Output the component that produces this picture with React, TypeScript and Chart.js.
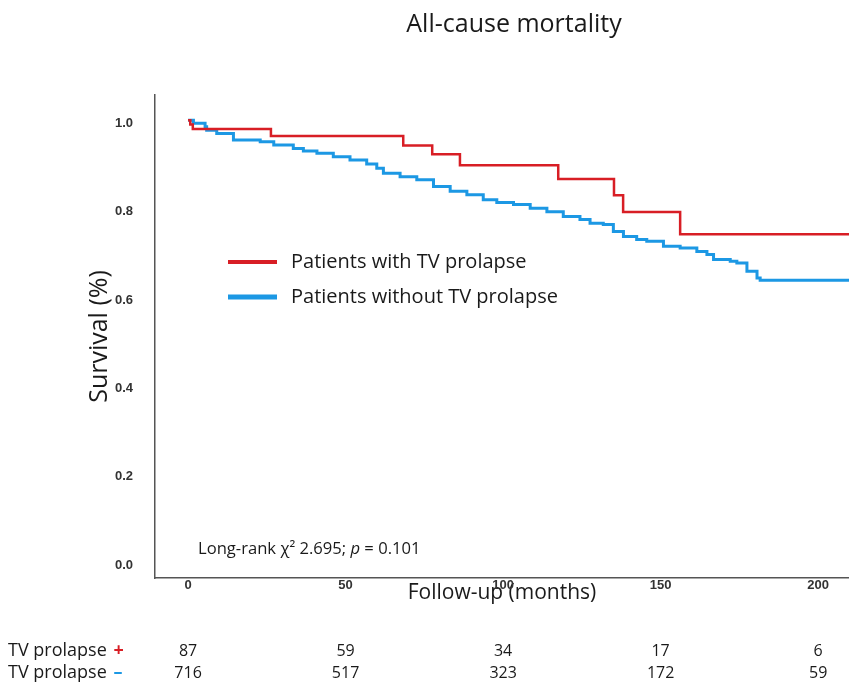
import React, { useEffect, useRef } from "react";
import { Chart, registerables } from "chart.js";

Chart.register(...registerables);

const TITLE = "All-cause mortality";
const X_TICKS = [0, 50, 100, 150, 200];
const Y_TICKS = [0, 0.2, 0.4, 0.6, 0.8, 1.0];

const RED_T = [0, 0.7, 1.5, 26.3, 68.3, 77.5, 86.3, 117.5, 135.2, 138.1, 156.2, 212];
const RED_S = [1.0, 0.99, 0.98, 0.964, 0.943, 0.923, 0.898, 0.867, 0.83, 0.792, 0.742, 0.742];

const BLUE_T = [0, 1.7, 5.4, 5.9, 9.1, 14.4, 22.9, 27.2, 33.4, 36.6, 40.9, 46.1, 51.4, 56.7, 59.9, 62.0, 67.3, 72.6, 77.9, 83.2, 88.5, 93.7, 98.0, 103.3, 108.6, 113.9, 119.1, 124.4, 127.6, 131.8, 135.0, 138.2, 142.4, 145.6, 150.9, 156.2, 161.5, 164.7, 166.8, 172.1, 174.2, 177.4, 180.6, 181.6, 212];
const BLUE_S = [1.0, 0.993, 0.985, 0.977, 0.97, 0.955, 0.951, 0.944, 0.936, 0.93, 0.925, 0.917, 0.91, 0.901, 0.891, 0.88, 0.872, 0.865, 0.85, 0.839, 0.831, 0.82, 0.814, 0.809, 0.801, 0.793, 0.782, 0.775, 0.767, 0.764, 0.748, 0.737, 0.73, 0.726, 0.715, 0.711, 0.703, 0.696, 0.685, 0.681, 0.677, 0.658, 0.643, 0.638, 0.638];

const SERIES_LABELS = ["Patients with TV prolapse", "Patients without TV prolapse"];
const SERIES_COLORS = ["#d81e25", "#1c98e4"];

const RISK_LABELS = ["TV prolapse ", "TV prolapse "];
const RISK_SIGNS = ["+", "\u2013"];
const RISK_RED = [87, 59, 34, 17, 6];
const RISK_BLUE = [716, 517, 323, 172, 59];

const ANNOT_PARTS = ["Long-rank \u03c7\u00b2 2.695; ", "p", " = 0.101"];

const TEXT_FONT = "'Open Sans', 'Noto Sans', sans-serif";
const TICK_FONT = "'Liberation Sans', Arial, sans-serif";

const extrasPlugin = {
  id: "extras",
  afterDraw(chart: any) {
    const ctx = chart.ctx as CanvasRenderingContext2D;
    const xs = chart.scales.x;
    ctx.save();
    // Title
    ctx.fillStyle = "#1a1a1a";
    ctx.font = `25px ${TEXT_FONT}`;
    ctx.textAlign = "center";
    ctx.textBaseline = "middle";
    ctx.fillText(TITLE, 514, 25);

    // Legend
    const legY = [262, 297];
    chart.data.datasets.forEach((ds: any, i: number) => {
      ctx.strokeStyle = ds.borderColor;
      ctx.lineWidth = i === 0 ? 4 : 5;
      ctx.beginPath();
      ctx.moveTo(228, legY[i]);
      ctx.lineTo(277, legY[i]);
      ctx.stroke();
      ctx.fillStyle = "#1a1a1a";
      ctx.font = `20px ${TEXT_FONT}`;
      ctx.textAlign = "left";
      ctx.textBaseline = "middle";
      ctx.fillText(ds.label, 291, legY[i]);
    });

    // Annotation
    const af = 16.6;
    ctx.font = `${af}px ${TEXT_FONT}`;
    ctx.textAlign = "left";
    ctx.textBaseline = "middle";
    let ax = 198;
    const ay = 549;
    ctx.fillText(ANNOT_PARTS[0], ax, ay);
    ax += ctx.measureText(ANNOT_PARTS[0]).width;
    ctx.font = `italic ${af}px ${TEXT_FONT}`;
    ctx.fillText(ANNOT_PARTS[1], ax, ay);
    ax += ctx.measureText(ANNOT_PARTS[1]).width;
    ctx.font = `${af}px ${TEXT_FONT}`;
    ctx.fillText(ANNOT_PARTS[2], ax, ay);

    // Risk table
    const rows = [RISK_RED, RISK_BLUE];
    const rowY = [651, 673];
    rows.forEach((vals, r) => {
      ctx.font = `18px ${TEXT_FONT}`;
      ctx.fillStyle = "#1a1a1a";
      ctx.textAlign = "left";
      ctx.fillText(RISK_LABELS[r], 8, rowY[r]);
      const w = ctx.measureText(RISK_LABELS[r]).width;
      ctx.font = `bold 18px ${TEXT_FONT}`;
      ctx.fillStyle = SERIES_COLORS[r];
      ctx.fillText(RISK_SIGNS[r], 10 + w, rowY[r]);
      ctx.font = `16px ${TEXT_FONT}`;
      ctx.fillStyle = "#1a1a1a";
      ctx.textAlign = "center";
      vals.forEach((v, i) => {
        ctx.fillText(String(v), xs.getPixelForValue(X_TICKS[i]), rowY[r]);
      });
    });
    ctx.restore();
  },
};

export default function App() {
  const ref = useRef<HTMLCanvasElement | null>(null);
  useEffect(() => {
    if (!ref.current) return;
    const chart = new Chart(ref.current, {
      type: "line",
      data: {
        datasets: [
          {
            label: SERIES_LABELS[0],
            data: RED_T.map((t, i) => ({ x: t, y: RED_S[i] })),
            borderColor: SERIES_COLORS[0],
            borderWidth: 2.5,
            stepped: true,
            pointRadius: 0,
            fill: false,
          },
          {
            label: SERIES_LABELS[1],
            data: BLUE_T.map((t, i) => ({ x: t, y: BLUE_S[i] })),
            borderColor: SERIES_COLORS[1],
            borderWidth: 3,
            stepped: true,
            pointRadius: 0,
            fill: false,
          },
        ],
      },
      options: {
        responsive: false,
        animation: false,
        layout: { padding: { left: 0, right: 0, top: 95, bottom: 0 } },
        plugins: {
          legend: { display: false },
          tooltip: { enabled: false },
          title: { display: false },
        },
        scales: {
          x: {
            type: "linear",
            min: -10.5,
            max: 209.8,
            grid: { display: false, drawTicks: false },
            border: { display: true, color: "#555", width: 1.5 },
            afterBuildTicks: (s: any) => {
              s.ticks = X_TICKS.map((v) => ({ value: v }));
            },
            afterFit: (s: any) => {
              s.height = 108;
            },
            ticks: {
              padding: 0,
              maxRotation: 0,
              autoSkip: false,
              color: "#333",
              font: { family: TICK_FONT, size: 13, weight: "bold" },
            },
            title: {
              display: true,
              text: "Follow-up (months)",
              color: "#1a1a1a",
              font: { family: TEXT_FONT, size: 21 },
              padding: { top: 0, bottom: 80 },
            },
          },
          y: {
            type: "linear",
            min: -0.036,
            max: 1.057,
            grid: { display: false, drawTicks: false },
            border: { display: true, color: "#555", width: 1.5 },
            afterBuildTicks: (s: any) => {
              s.ticks = Y_TICKS.map((v) => ({ value: v }));
            },
            afterFit: (s: any) => {
              s.width = 155;
            },
            ticks: {
              padding: 22,
              labelOffset: 3,
              color: "#333",
              font: { family: TICK_FONT, size: 13, weight: "bold" },
              callback: (v: any) => Number(v).toFixed(1),
            },
            title: {
              display: true,
              text: "Survival (%)",
              color: "#1a1a1a",
              font: { family: TEXT_FONT, size: 25 },
              padding: { top: 85, bottom: 0 },
            },
          },
        },
      },
      plugins: [extrasPlugin],
    });
    return () => chart.destroy();
  }, []);
  return (
    <div style={{ position: "fixed", left: 0, top: 0, width: 849, height: 686, background: "#fff" }}>
      <canvas ref={ref} width={849} height={686} />
    </div>
  );
}
